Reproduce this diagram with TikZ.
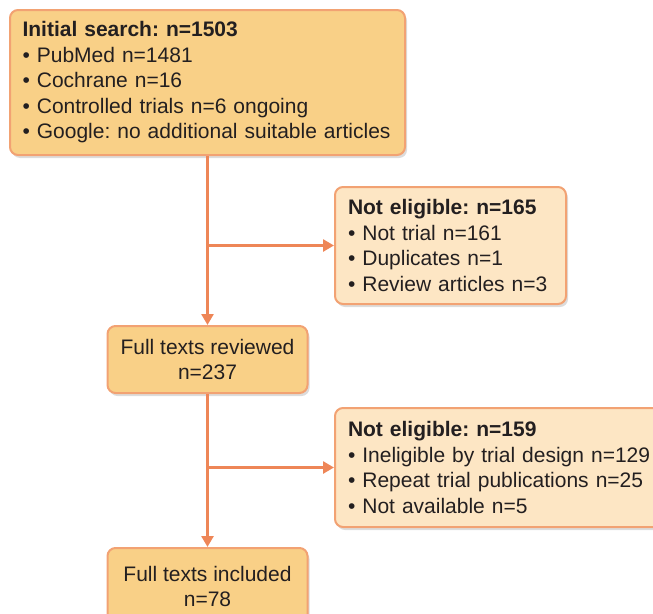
\documentclass[tikz,border=0pt]{standalone}
\usepackage{fontspec}
\setmainfont{Liberation Sans}
\usetikzlibrary{arrows.meta,positioning,shadows}
\definecolor{boxfill}{HTML}{F9D087}
\definecolor{notefill}{HTML}{FDE6C4}
\definecolor{edgeline}{HTML}{EE8657}
\definecolor{boxline}{HTML}{F2A273}
\definecolor{ink}{HTML}{231F20}

\begin{document}
\frenchspacing
\begin{tikzpicture}[x=1pt,y=-1pt,
box/.style={draw=boxline,fill=boxfill,rounded corners=8pt,line width=2pt,
  text=ink,font=\fontsize{21}{25.5}\selectfont,
  drop shadow={shadow xshift=2pt,shadow yshift=-3pt,fill=black!30,opacity=.45}},
listbox/.style={box,align=left,inner xsep=13pt,inner ysep=0pt},
countbox/.style={box,align=center,minimum width=200pt,minimum height=67pt,inner sep=0pt},
note/.style={listbox,fill=notefill},
arr/.style={draw=edgeline,line width=2.6pt,-{Triangle[length=11pt,width=12pt]}}]
\useasboundingbox (0,0) rectangle (653,613);
\clip (0,0) rectangle (653,613);
\node[listbox,text width=370pt,inner xsep=12.5pt,minimum height=145pt] (search) at (207.5,82.5)
{\textbf{Initial search: n=1503}\\
• PubMed n=1481\\
• Cochrane n=16\\
• Controlled trials n=6 ongoing\\
• Google: no additional suitable articles};
\node[note,text width=205pt,minimum height=117pt] (excl1) at (450.5,245.5)
{\textbf{Not eligible: n=165}\\
• Not trial n=161\\
• Duplicates n=1\\
• Review articles n=3};
\node[countbox] (reviewed) at (207.5,359.5) {Full texts reviewed\\n=237};
\node[note,text width=310pt,minimum height=119pt] (excl2) at (503,467.5)
{\textbf{Not eligible: n=159}\\
• Ineligible by trial design n=129\\
• Repeat trial publications n=25\\
• Not available n=5};
\node[countbox,minimum height=77pt] (included) at (207.5,586.5) {Full texts included\\n=78};
\coordinate (split1) at (search.south |- excl1.west);
\coordinate (split2) at (reviewed.south |- excl2.west);
\draw[arr] (search.south) -- (reviewed.north);
\draw[arr] (split1) -- (excl1.west);
\draw[arr] (reviewed.south) -- (included.north);
\draw[arr] (split2) -- (excl2.west);
\end{tikzpicture}
\end{document}
